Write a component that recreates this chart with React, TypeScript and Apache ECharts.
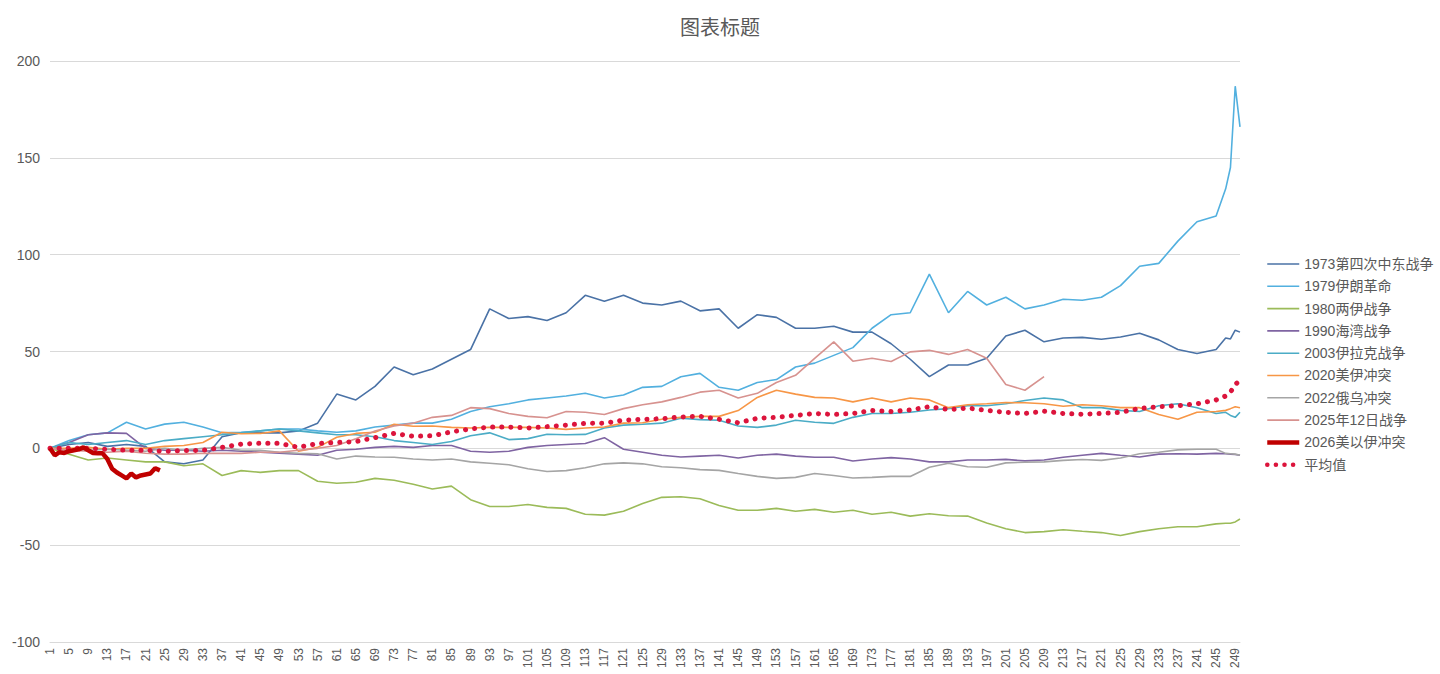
import React, { useEffect, useRef } from "react";
import * as echarts from "echarts";

const CATEGORIES: string[] = Array.from({ length: 250 }, (_, i) => String(i + 1));

const DAYS = [1,5,9,13,17,21,25,29,33,37,41,45,49,53,57,61,65,69,73,77,81,85,89,93,97,101,105,109,113,117,121,125,129,133,137,141,145,149,153,157,161,165,169,173,177,181,185,189,193,197,201,205,209,213,217,221,225,229,233,237,241,245,247,248,249,250];
const DAYS_2026 = [1,2,3,4,5,6,7,8,9,10,11,12,13,14,15,16,17,18,19,20,21,22,23,24];

const S1973 = [0,2,3,1,2,1,-7,-8,-6,6, 8,8,8,9,13,28,25,32,42,38, 41,46,51,72,67,68,66,70,79,76, 79,75,74,76,71,72,62,69,67.6,62, 62,63,60,60,54,46,37,43,43,46.5, 58,61,55,57,57.3,56.3,57.5,59.4,56,51, 49,51,57,56.5,61,60];
const S1979 = [0,4,7,8,13.5,10,12.5,13.5,11,8, 8.3,9,10,10,9,8.3,9,11,12,13, 13,15,19,21.5,23,25,26,27,28.4,26, 27.5,31.5,32,37,38.7,31.5,30,34,35.5,42, 44,48,52,62,69,70,90,70,81,74, 78,72,74,77,76.5,78,84,94,95.5,107, 117,120,134,145,187,166];
const S1980 = [0,-3,-6,-5,-6,-7,-7,-9,-8,-14, -11.5,-12.4,-11.5,-11.5,-17,-18,-17.5,-15.5,-16.5,-18.5, -21,-19.5,-26.5,-30,-30,-29,-30.5,-31,-34,-34.5, -32.5,-28.5,-25.3,-25,-26,-29.5,-32,-32,-31,-32.5, -31.5,-33,-32,-34,-33,-35,-33.8,-34.8,-35,-38.5, -41.5,-43.5,-43,-42,-42.8,-43.5,-45,-43,-41.5,-40.5, -40.5,-39,-38.7,-38.7,-38,-36.5];
const S1990 = [0,3,7,8,7.7,0,-1,-1,-1.5,-1, -1.5,-2,-2.5,-3,-3.6,-1,-0.5,0.5,1,0.5, 1.5,1.5,-1.5,-2,-1.5,0.5,1.5,2,2.5,5.5, -0.5,-2,-3.6,-4.5,-4,-3.6,-5,-3.6,-3,-4, -4.6,-4.6,-6.5,-5.5,-4.8,-5.5,-7,-7,-6,-6, -5.7,-6.5,-6,-4.6,-3.6,-2.6,-3.6,-4.5,-3,-2.8, -3,-2.6,-2.8,-3,-3.2,-3.6];
const S2003 = [0,3,2,3,4,2,4,5,6,7, 8,9,10,9,8,7,7,6,4,3, 2,3.5,6.5,8,4.5,5,7.3,7,7.2,10.5, 12,12.4,13,15.5,14.8,14.5,11.5,10.8,12,14.5, 13.5,12.9,16,18,18,18.6,19.8,20.5,22,22, 23,24.7,26,25,21,21,19.6,19,22,23, 21,18,18.6,17,16,18.6];
const S2020 = [0,0,0.5,-0.5,0,0,1,1.5,3,8.3, 7.5,7.7,9,-1.5,0.5,5.7,7.7,8.3,12.4,11.4, 11.5,10.8,10.5,10.8,10.8,10.8,10.5,9.8,10.5,11, 13,13.2,15,16,16.5,16.5,19.5,26.3,30,28, 26.3,26,24,26,24,26,25,21,22.5,23, 23.7,23.5,23,21.7,22.5,22,21,21,17.5,15, 18.6,19,19.6,20.5,21.5,21];
const S2022 = [0,-1,-1,-0.5,-1,-1.5,0,-1,0,0.5, -1,-1,-2,-2.6,-2.8,-5.5,-4,-4.5,-4.6,-5.5, -6,-5.5,-7,-7.7,-8.5,-10.5,-12,-11.5,-10,-8, -7.5,-8,-9.5,-10,-11,-11.4,-13,-14.5,-15.5,-15, -13,-14,-15.3,-15,-14.5,-14.5,-9.8,-7.7,-9.5,-9.8, -7.5,-7.2,-7,-6.2,-5.8,-6.2,-5,-2.8,-2,-0.8, -0.5,-0.5,-2.6,-2.8,-3,-3.6];
const S2025 = [0,-1,-1.5,-2,-1.5,-2.5,-3,-3,-2.5,-2.6, -2.6,-2,-2,-1,0,1.5,5,9,11.5,13, 16,17,21,20.5,18,16.5,15.8,19,18.6,17.5, 20.5,22.5,24,26.3,29,30,26,28.4,34,37.7, 46.5,55,45,46.5,44.8,49.8,50.6,48.5,51,46.5, 33,30,37];
const S2026 = [0,-3.6,-2,-2.4,-1.5,-1,-0.5,0.5,-1,-2.4,-2.6,-2.6,-5.5,-10.5,-12.5,-14,-15.5,-13,-15,-14,-13.5,-13,-10.3,-11.4];
const AVG = [0,0,0,-0.5,-1,-1,-1.5,-1.2,-1,0.5, 2.2,2.6,2.6,0.5,2.5,3,3.5,5.5,7.7,6.2, 6.5,8.5,10,11,11,10.5,11.2,12,12.9,13, 14.5,15,15.3,16.2,16.5,15,13.2,15.5,16,17, 18,17.5,18,19.5,19,19.8,21.5,20,20.8,19.6, 18.6,18,19.2,18,17.6,18,18.6,20.6,21.5,22, 23,25,27,29,33,35];

const NAMES = ["1973第四次中东战争","1979伊朗革命","1980两伊战争","1990海湾战争","2003伊拉克战争","2020美伊冲突","2022俄乌冲突","2025年12日战争","2026美以伊冲突","平均值"];
const COLORS = ["#4a72a6","#52b0df","#9bbb59","#7f64a2","#4bacc6","#f79646","#a5a5a5","#d7928f","#c00000","#dc143c"];

const FONT = "'Liberation Sans', 'Noto Sans CJK SC', sans-serif";

function pairs(days: number[], vals: number[]) {
  return vals.map((v, i) => [days[i] - 1, v]);
}

export default function App() {
  const ref = useRef<HTMLDivElement>(null);
  useEffect(() => {
    if (!ref.current) return;
    const chart = echarts.init(ref.current, undefined, { renderer: "svg" });
    const seriesVals = [S1973, S1979, S1980, S1990, S2003, S2020, S2022, S2025];
    const series: any[] = seriesVals.map((vals, k) => ({
      name: NAMES[k],
      type: "line",
      symbol: "none",
      data: pairs(DAYS, vals),
      lineStyle: { width: 1.6, color: COLORS[k] },
      itemStyle: { color: COLORS[k] },
    }));
    series.push({
      name: NAMES[8],
      type: "line",
      symbol: "none",
      data: pairs(DAYS_2026, S2026),
      lineStyle: { width: 4.5, color: COLORS[8] },
      itemStyle: { color: COLORS[8] },
      z: 4,
    });
    series.push({
      name: NAMES[9],
      type: "line",
      symbol: "none",
      data: pairs(DAYS, AVG),
      lineStyle: { width: 5, color: COLORS[9], type: [0.1, 9], cap: "round" },
      itemStyle: { color: COLORS[9] },
      z: 3,
    });
    const legendData: any[] = NAMES.map((n, k) => {
      if (k === 8) return { name: n, lineStyle: { width: 4.5, color: COLORS[8] } };
      if (k === 9) return { name: n, lineStyle: { width: 4.5, color: COLORS[9], type: [0.1, 8.5], cap: "round" } };
      return { name: n, lineStyle: { width: 1.6, color: COLORS[k] } };
    });
    chart.setOption({
      animation: false,
      textStyle: { fontFamily: FONT },
      title: {
        text: "图表标题",
        left: "center",
        top: 13,
        textStyle: { fontSize: 20, color: "#595959", fontWeight: "normal", fontFamily: FONT },
      },
      legend: {
        orient: "vertical",
        left: 1260,
        top: 252,
        itemWidth: 32,
        itemHeight: 14,
        itemGap: 8.3,
        itemStyle: { opacity: 0, borderWidth: 0 },
        textStyle: { fontSize: 14, color: "#595959", fontFamily: FONT },
        data: legendData,
      },
      grid: { left: 50, right: 200, top: 61, bottom: 32, containLabel: false },
      xAxis: {
        type: "category",
        data: CATEGORIES,
        boundaryGap: false,
        axisLine: { show: true, onZero: false, lineStyle: { color: "#d9d9d9" } },
        axisTick: { show: false },
        axisLabel: { interval: 3, rotate: 90, fontSize: 12, color: "#595959", margin: 6, fontFamily: FONT },
        splitLine: { show: false },
      },
      yAxis: {
        type: "value",
        min: -100,
        max: 200,
        interval: 50,
        axisLine: { show: false },
        axisTick: { show: false },
        axisLabel: { fontSize: 14, color: "#595959", margin: 10, fontFamily: FONT },
        splitLine: { lineStyle: { color: "#d9d9d9", width: 1 } },
      },
      series,
    });
    return () => chart.dispose();
  }, []);
  return (
    <div
      ref={ref}
      style={{ position: "absolute", left: 0, top: 0, width: 1440, height: 674, background: "#fff" }}
    />
  );
}
